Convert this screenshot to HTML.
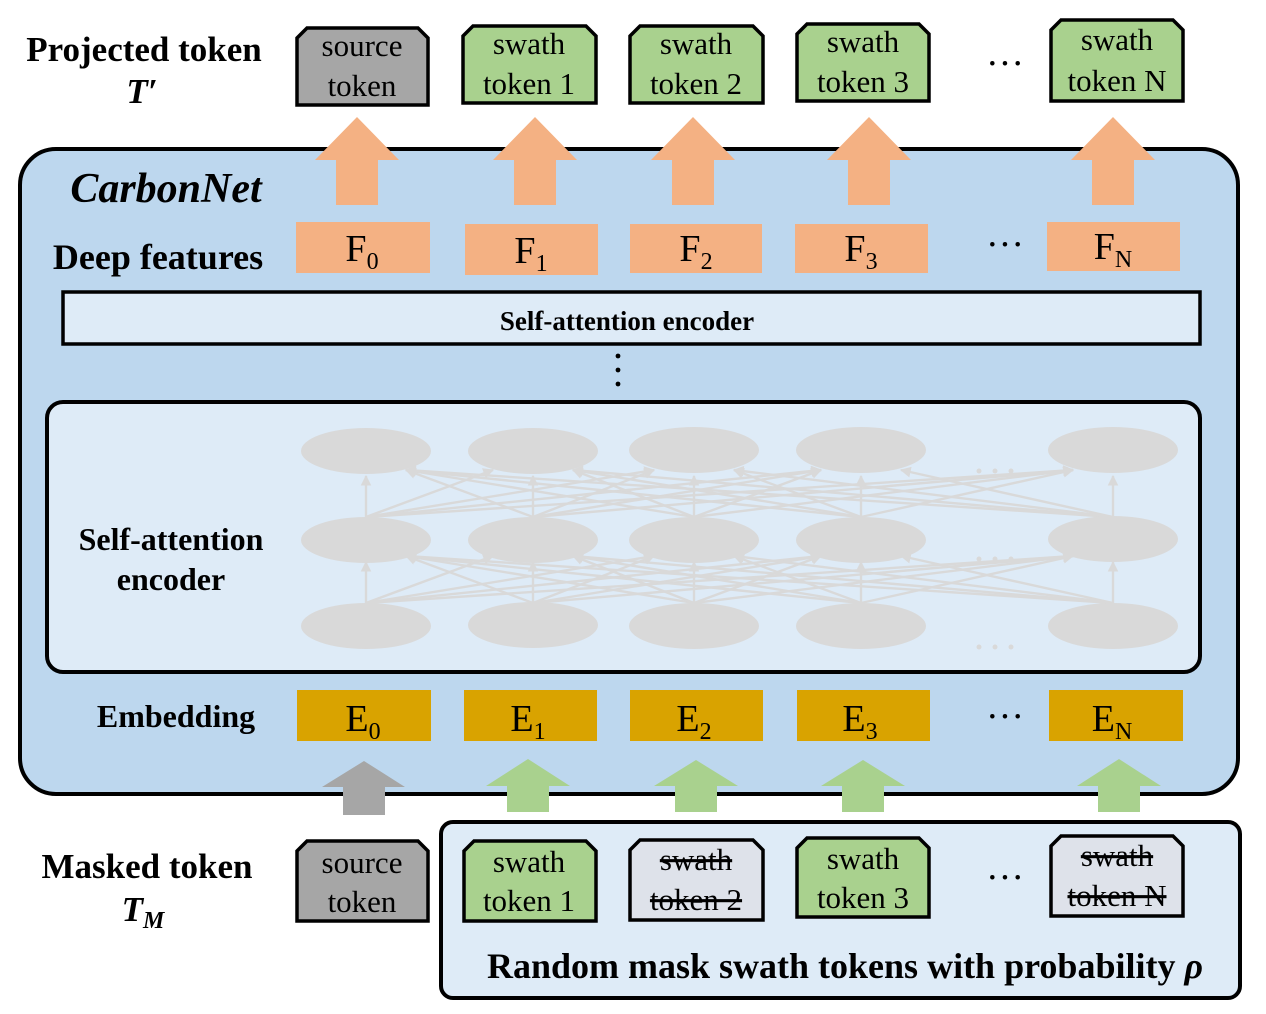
<!DOCTYPE html>
<html><head><meta charset="utf-8"><style>
html,body{margin:0;padding:0;background:#fff;}
svg{display:block;font-family:"Liberation Serif",serif;}
</style></head><body>
<svg width="1266" height="1014" viewBox="0 0 1266 1014" xmlns="http://www.w3.org/2000/svg">
<defs>
<marker id="ah" viewBox="0 0 10 10" refX="9" refY="5" markerWidth="4.5" markerHeight="4.5" orient="auto"><path d="M0,0L10,5L0,10z" fill="#d9d9d9"/></marker>
<g id="layer" stroke="#d9d9d9" stroke-width="2.4" fill="none" marker-end="url(#ah)">
<line x1="366" y1="517" x2="366" y2="476"/>
<line x1="366" y1="517" x2="493" y2="470"/>
<line x1="366" y1="517" x2="654" y2="470"/>
<line x1="366" y1="517" x2="821" y2="470"/>
<line x1="366" y1="517" x2="1073" y2="470"/>
<line x1="533" y1="517" x2="406" y2="470"/>
<line x1="533" y1="517" x2="533" y2="476"/>
<line x1="533" y1="517" x2="654" y2="470"/>
<line x1="533" y1="517" x2="821" y2="470"/>
<line x1="533" y1="517" x2="1073" y2="470"/>
<line x1="694" y1="517" x2="406" y2="470"/>
<line x1="694" y1="517" x2="573" y2="470"/>
<line x1="694" y1="517" x2="694" y2="476"/>
<line x1="694" y1="517" x2="821" y2="470"/>
<line x1="694" y1="517" x2="1073" y2="470"/>
<line x1="861" y1="517" x2="406" y2="470"/>
<line x1="861" y1="517" x2="573" y2="470"/>
<line x1="861" y1="517" x2="734" y2="470"/>
<line x1="861" y1="517" x2="861" y2="476"/>
<line x1="861" y1="517" x2="1073" y2="470"/>
<line x1="1113" y1="517" x2="406" y2="470"/>
<line x1="1113" y1="517" x2="573" y2="470"/>
<line x1="1113" y1="517" x2="734" y2="470"/>
<line x1="1113" y1="517" x2="901" y2="470"/>
<line x1="1113" y1="517" x2="1113" y2="476"/>
</g>
</defs>

<text x="144" y="61" font-size="35" font-weight="bold" text-anchor="middle">Projected token</text>
<text x="142" y="103" font-size="35" font-weight="bold" font-style="italic" text-anchor="middle">T′</text>

<g stroke="#000" stroke-width="3.5">
<path d="M307,28H418L428,38V105H297V38Z" fill="#a6a6a6"/>
<path d="M473,26H586L596,36V103H463V36Z" fill="#a9d18e"/>
<path d="M640,26H753L763,36V103H630V36Z" fill="#a9d18e"/>
<path d="M807,24H919L929,34V101H797V34Z" fill="#a9d18e"/>
<path d="M1061,20H1173L1183,30V101H1051V30Z" fill="#a9d18e"/>
</g>
<g font-size="31" text-anchor="middle">
<text x="362" y="56">source</text><text x="362" y="96">token</text>
<text x="529" y="54">swath</text><text x="529" y="94">token 1</text>
<text x="696" y="54">swath</text><text x="696" y="94">token 2</text>
<text x="863" y="52">swath</text><text x="863" y="92">token 3</text>
<text x="1117" y="50">swath</text><text x="1117" y="91">token N</text>
</g>
<text x="1005" y="76" font-size="38" text-anchor="middle">···</text>

<rect x="20" y="149" width="1218" height="645" rx="36" fill="#bdd7ee" stroke="#000" stroke-width="4"/>
<text x="166" y="202" font-size="42" font-weight="bold" font-style="italic" text-anchor="middle">CarbonNet</text>

<g fill="#f4b183">
<path d="M357,117L399,160H378V205H336V160H315Z"/>
<path d="M535,117L577,160H556V205H514V160H493Z"/>
<path d="M693,117L735,160H714V205H672V160H651Z"/>
<path d="M869,117L911,160H890V205H848V160H827Z"/>
<path d="M1113,117L1155,160H1134V205H1092V160H1071Z"/>
</g>

<text x="158" y="269" font-size="36" font-weight="bold" text-anchor="middle">Deep features</text>
<g fill="#f4b183">
<rect x="296" y="222" width="134" height="51"/>
<rect x="465" y="224" width="133" height="51"/>
<rect x="630" y="224" width="132" height="49"/>
<rect x="795" y="224" width="133" height="49"/>
<rect x="1047" y="222" width="133" height="49"/>
</g>
<g font-size="38" text-anchor="middle">
<text x="362" y="261">F<tspan font-size="24" dy="8">0</tspan></text>
<text x="531" y="263">F<tspan font-size="24" dy="8">1</tspan></text>
<text x="696" y="261">F<tspan font-size="24" dy="8">2</tspan></text>
<text x="861" y="261">F<tspan font-size="24" dy="8">3</tspan></text>
<text x="1113" y="259">F<tspan font-size="24" dy="8">N</tspan></text>
</g>
<text x="1005" y="257" font-size="38" text-anchor="middle">···</text>

<rect x="63" y="292" width="1137" height="52" fill="#deebf7" stroke="#000" stroke-width="3.5"/>
<text x="627" y="330" font-size="27" font-weight="bold" text-anchor="middle">Self-attention encoder</text>
<g fill="#000"><circle cx="618" cy="356" r="2.4"/><circle cx="618" cy="370" r="2.4"/><circle cx="618" cy="384" r="2.4"/></g>

<rect x="47" y="402" width="1153" height="270" rx="16" fill="#deebf7" stroke="#000" stroke-width="4"/>
<text x="171" y="550" font-size="32" font-weight="bold" text-anchor="middle">Self-attention</text>
<text x="171" y="590" font-size="32" font-weight="bold" text-anchor="middle">encoder</text>

<use href="#layer"/>
<use href="#layer" transform="translate(0,86)"/>
<g fill="#d9d9d9">
<ellipse cx="366" cy="451" rx="65" ry="23"/><ellipse cx="533" cy="451" rx="65" ry="23"/><ellipse cx="694" cy="450" rx="65" ry="23"/><ellipse cx="861" cy="450" rx="65" ry="23"/><ellipse cx="1113" cy="450" rx="65" ry="23"/>
<ellipse cx="366" cy="540" rx="65" ry="23"/><ellipse cx="533" cy="540" rx="65" ry="23"/><ellipse cx="694" cy="540" rx="65" ry="23"/><ellipse cx="861" cy="540" rx="65" ry="23"/><ellipse cx="1113" cy="539" rx="65" ry="23"/>
<ellipse cx="366" cy="626" rx="65" ry="23"/><ellipse cx="533" cy="625" rx="65" ry="23"/><ellipse cx="694" cy="626" rx="65" ry="23"/><ellipse cx="861" cy="626" rx="65" ry="23"/><ellipse cx="1113" cy="626" rx="65" ry="23"/>
<circle cx="979" cy="647" r="2.5"/><circle cx="995" cy="647" r="2.5"/><circle cx="1011" cy="647" r="2.5"/>
<circle cx="979" cy="471" r="2.5"/><circle cx="995" cy="471" r="2.5"/><circle cx="1011" cy="471" r="2.5"/>
<circle cx="979" cy="559" r="2.5"/><circle cx="995" cy="559" r="2.5"/><circle cx="1011" cy="559" r="2.5"/>
</g>

<text x="176" y="727" font-size="32" font-weight="bold" text-anchor="middle">Embedding</text>
<g fill="#d9a300">
<rect x="297" y="690" width="134" height="51"/>
<rect x="464" y="690" width="133" height="51"/>
<rect x="630" y="690" width="133" height="51"/>
<rect x="797" y="690" width="133" height="51"/>
<rect x="1049" y="690" width="134" height="51"/>
</g>
<g font-size="38" text-anchor="middle">
<text x="363" y="731">E<tspan font-size="24" dy="8">0</tspan></text>
<text x="528" y="731">E<tspan font-size="24" dy="8">1</tspan></text>
<text x="694" y="731">E<tspan font-size="24" dy="8">2</tspan></text>
<text x="860" y="731">E<tspan font-size="24" dy="8">3</tspan></text>
<text x="1112" y="731">E<tspan font-size="24" dy="8">N</tspan></text>
</g>
<text x="1005" y="729" font-size="38" text-anchor="middle">···</text>

<rect x="441" y="822" width="799" height="176" rx="12" fill="#deebf7" stroke="#000" stroke-width="4"/>

<path d="M364,761L405,787H385V815H343V787H322Z" fill="#a6a6a6"/>
<g fill="#a9d18e">
<path d="M528,759L570,786H549V812H507V786H486Z"/>
<path d="M696,760L738,786H717V812H675V786H654Z"/>
<path d="M863,760L905,786H884V812H842V786H821Z"/>
<path d="M1119,759L1161,786H1140V812H1098V786H1077Z"/>
</g>

<text x="147" y="878" font-size="35" font-weight="bold" text-anchor="middle">Masked token</text>
<text x="143" y="921" font-size="35" font-weight="bold" font-style="italic" text-anchor="middle">T<tspan font-size="24" dy="7">M</tspan></text>

<g stroke="#000" stroke-width="3.5">
<path d="M307,841H418L428,851V921H297V851Z" fill="#a6a6a6"/>
<path d="M474,841H586L596,851V921H464V851Z" fill="#a9d18e"/>
<path d="M640,840H753L763,850V920H630V850Z" fill="#dee2ea"/>
<path d="M807,838H919L929,848V917H797V848Z" fill="#a9d18e"/>
<path d="M1061,836H1173L1183,846V916H1051V846Z" fill="#dee2ea"/>
</g>
<g font-size="31" text-anchor="middle">
<text x="362" y="873">source</text><text x="362" y="912">token</text>
<text x="529" y="872">swath</text><text x="529" y="911">token 1</text>
<text x="696" y="870" text-decoration="line-through">swath</text><text x="696" y="910" text-decoration="line-through">token 2</text>
<text x="863" y="869">swath</text><text x="863" y="908">token 3</text>
<text x="1117" y="866" text-decoration="line-through">swath</text><text x="1117" y="906" text-decoration="line-through">token N</text>
</g>
<text x="1005" y="890" font-size="38" text-anchor="middle">···</text>
<text x="845" y="978" font-size="36" font-weight="bold" text-anchor="middle">Random mask swath tokens with probability <tspan font-style="italic">ρ</tspan></text>
</svg>
</body></html>
